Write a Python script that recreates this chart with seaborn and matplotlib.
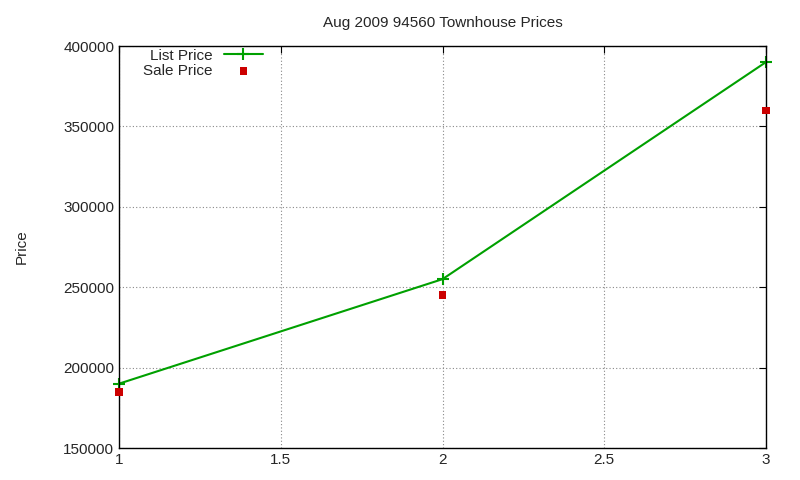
import matplotlib
matplotlib.use("Agg")
import matplotlib.pyplot as plt
import seaborn as sns
import pandas as pd

x = [1, 2, 3]
list_price = [190000, 255000, 390000]
sale_price = [185000, 245000, 360000]

sns.set_style("white")
plt.rcParams['font.family'] = ['Liberation Sans', 'DejaVu Sans']

fig = plt.figure(figsize=(8, 4.8), dpi=100)
ax = fig.add_axes([119/800, 1-448/480, (766-119)/800, (448-46)/480])

df = pd.DataFrame({"x": x, "list": list_price, "sale": sale_price})
sns.lineplot(data=df, x="x", y="list", ax=ax, color="#00a000", lw=1.5,
             marker="+", markersize=8, mew=1.5, mec="#00a000", mfc="#00a000",
             label="List Price", clip_on=False)
sns.scatterplot(data=df, x="x", y="sale", ax=ax, color="#cc0000", marker="s",
                s=30, edgecolor="none", label="Sale Price", clip_on=False, zorder=5)

ax.set_xlim(1, 3)
ax.set_ylim(150000, 400000)
ax.set_xticks([1, 1.5, 2, 2.5, 3])
ax.set_xticklabels(["1", "1.5", "2", "2.5", "3"])
ax.set_yticks(range(150000, 400001, 50000))
ax.grid(True, linestyle=(0, (1, 2)), color="#888888", lw=0.8)
ax.tick_params(direction="in", length=5, labelsize=11, top=True, right=True, color="black")
for s in ax.spines.values():
    s.set_color("black"); s.set_linewidth(1)
ax.set_xlabel("")
ax.set_ylabel("Price", fontsize=11, labelpad=25)
ax.set_title("Aug 2009 94560 Townhouse Prices", fontsize=11, pad=14)
ax.legend(loc="upper left", frameon=False, markerfirst=False, fontsize=11,
          bbox_to_anchor=(0.02, 1.02), handlelength=2.5, labelspacing=0.1, borderaxespad=0.3)
fig.savefig("out.png", dpi=100)
